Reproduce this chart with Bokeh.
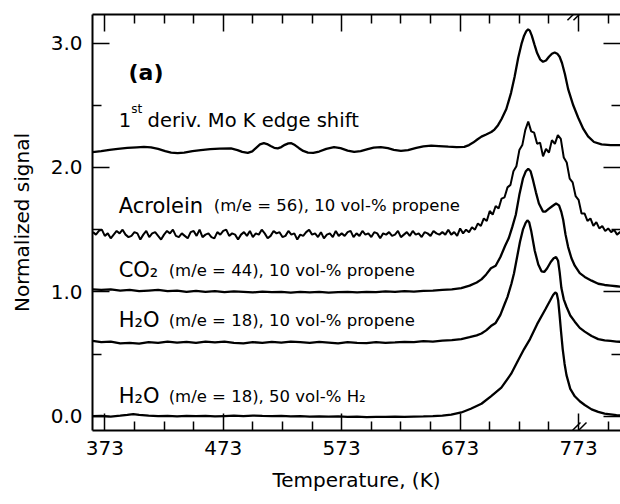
from bokeh.plotting import figure
from bokeh.models import (FixedTicker, LinearAxis, Arrow, CustomJSTickFormatter,
                          PrintfTickFormatter, Range1d)
from bokeh.core.properties import value
from bokeh.embed import file_html
from bokeh.resources import INLINE

# ---------------- data ----------------
X_TICKS = [373, 473, 573, 673, 773]
X_MINOR = [398, 423, 448, 498, 523, 548, 598, 623, 648, 698, 723, 748, 798]
Y_TICKS = [0.0, 1.0, 2.0, 3.0]
Y_MINOR = [0.5, 1.5, 2.5]
BREAK_T = 773

# 1st derivative Mo K edge shift (temperature K, signal)
mo_edge = [(362.6, 2.124), (370, 2.132), (377, 2.142), (384, 2.150), (392, 2.157), (400, 2.162),
           (406, 2.165), (412, 2.162), (418, 2.150), (424, 2.132), (429, 2.120), (434.5, 2.116),
           (440, 2.120), (447, 2.132), (454, 2.140), (462, 2.147), (470, 2.152), (479.5, 2.153),
           (485, 2.140), (489, 2.126), (493.7, 2.117), (497.5, 2.130), (501, 2.160), (504, 2.185),
           (507.3, 2.195), (510, 2.188), (513, 2.172), (516, 2.158), (519, 2.154), (522, 2.164),
           (525, 2.182), (528, 2.194), (530.5, 2.195), (533.5, 2.180), (537, 2.155), (540.5, 2.133),
           (544.5, 2.120), (549, 2.118), (554, 2.128), (560, 2.150), (566.5, 2.163), (572, 2.155),
           (578, 2.136), (583.5, 2.125), (589, 2.132), (595, 2.148), (600, 2.160), (606, 2.164),
           (612, 2.155), (617, 2.142), (623, 2.133), (629, 2.140), (636, 2.158), (642, 2.170),
           (648.6, 2.175), (655, 2.172), (663, 2.167), (670, 2.164), (676.5, 2.166), (680.5, 2.18),
           (684, 2.20), (687.5, 2.225), (691, 2.248), (695, 2.265), (699.3, 2.285), (702, 2.305),
           (705, 2.34), (708, 2.39), (712, 2.47), (716, 2.60), (719, 2.73), (722, 2.88), (725, 3.00),
           (727, 3.06), (728.8, 3.095), (730.4, 3.11), (731.8, 3.10), (733.5, 3.06), (735.7, 2.99),
           (738, 2.92), (740.5, 2.87), (743, 2.85), (745.5, 2.86), (748, 2.89), (750.5, 2.915),
           (752.8, 2.925), (755, 2.915), (757, 2.89), (759, 2.84), (761.5, 2.75), (764.2, 2.63),
           (768.5, 2.50), (772.7, 2.40), (777, 2.31), (781, 2.25), (786, 2.205), (792.4, 2.185),
           (800, 2.18), (809, 2.18)]

# Acrolein (m/e = 56), 10 vol-% propene  -- sampling temperatures and signal
acr_t = [363.0, 365.5, 368.0, 370.5, 373.0, 375.5, 378.0, 380.5, 383.0, 385.5,
         388.0, 390.5, 393.0, 395.5, 398.0, 400.5, 403.0, 405.5, 408.0, 410.5,
         413.0, 415.5, 418.0, 420.5, 423.0, 425.5, 428.0, 430.5, 433.0, 435.5,
         438.0, 440.5, 443.0, 445.5, 448.0, 450.5, 453.0, 455.5, 458.0, 460.5,
         463.0, 465.5, 468.0, 470.5, 473.0, 475.5, 478.0, 480.5, 483.0, 485.5,
         488.0, 490.5, 493.0, 495.5, 498.0, 500.5, 503.0, 505.5, 508.0, 510.5,
         513.0, 515.5, 518.0, 520.5, 523.0, 525.5, 528.0, 530.5, 533.0, 535.5,
         538.0, 540.5, 543.0, 545.5, 548.0, 550.5, 553.0, 555.5, 558.0, 560.5,
         563.0, 565.5, 568.0, 570.5, 573.0, 575.5, 578.0, 580.5, 583.0, 585.5,
         588.0, 590.5, 593.0, 595.5, 598.0, 600.5, 603.0, 605.5, 608.0, 610.5,
         613.0, 615.5, 618.0, 620.5, 623.0, 625.5, 628.0, 630.5, 633.0, 635.5,
         638.0, 640.5, 643.0, 645.5, 648.0, 650.5, 653.0, 655.5, 658.0, 660.5,
         663.0, 665.5, 668.0, 670.5, 673.0, 675.5, 678.0, 680.5, 683.0, 685.5,
         688.0, 690.5, 693.0, 695.5, 698.0, 700.5, 703.0, 705.5, 708.0, 710.5,
         713.0, 715.5, 718.0, 720.5, 723.0, 725.5, 728.0, 730.5, 733.0, 735.5,
         738.0, 740.5, 743.0, 745.5, 748.0, 750.5, 753.0, 755.5, 758.0, 760.5,
         763.0, 765.5, 768.0, 770.5, 773.0, 775.5, 778.0, 780.5, 783.0, 785.5,
         788.0, 790.5, 793.0, 795.5, 798.0, 800.5, 803.0, 805.5, 808.0, 810.5]
acr_v = [1.48, 1.46, 1.49, 1.50, 1.45, 1.47, 1.43, 1.46, 1.49, 1.47,
         1.50, 1.46, 1.44, 1.45, 1.48, 1.47, 1.42, 1.46, 1.49, 1.44,
         1.47, 1.48, 1.45, 1.42, 1.46, 1.49, 1.47, 1.50, 1.45, 1.44,
         1.47, 1.45, 1.43, 1.48, 1.49, 1.45, 1.50, 1.44, 1.46, 1.47,
         1.44, 1.43, 1.48, 1.46, 1.49, 1.50, 1.45, 1.47, 1.46, 1.42,
         1.46, 1.48, 1.45, 1.49, 1.44, 1.47, 1.46, 1.50, 1.47, 1.43,
         1.45, 1.49, 1.47, 1.48, 1.44, 1.45, 1.49, 1.46, 1.47, 1.42,
         1.46, 1.45, 1.48, 1.50, 1.46, 1.47, 1.44, 1.48, 1.43, 1.46,
         1.47, 1.44, 1.49, 1.45, 1.47, 1.45, 1.48, 1.49, 1.44, 1.47,
         1.45, 1.49, 1.46, 1.47, 1.44, 1.48, 1.47, 1.43, 1.47, 1.46,
         1.48, 1.45, 1.46, 1.49, 1.44, 1.46, 1.48, 1.45, 1.49, 1.46,
         1.47, 1.44, 1.48, 1.47, 1.45, 1.49, 1.47, 1.46, 1.48, 1.46,
         1.50, 1.46, 1.48, 1.45, 1.51, 1.47, 1.50, 1.48, 1.52, 1.50,
         1.55, 1.53, 1.59, 1.57, 1.65, 1.62, 1.69, 1.67, 1.75, 1.76,
         1.84, 1.86, 1.97, 2.01, 2.14, 2.18, 2.30, 2.37, 2.29, 2.28,
         2.19, 2.20, 2.09, 2.15, 2.12, 2.22, 2.19, 2.26, 2.23, 2.08,
         2.04, 1.91, 1.88, 1.77, 1.74, 1.63, 1.63, 1.57, 1.59, 1.53,
         1.56, 1.51, 1.53, 1.49, 1.51, 1.48, 1.50, 1.46, 1.48, 1.46]

# CO2 (m/e = 44), 10 vol-% propene
co2 = [(362.6, 1.02), (370, 1.015), (378, 1.02), (386, 1.01), (394, 1.015), (402, 1.005), (410, 1.01),
       (418, 1.015), (426, 1.005), (434, 1.01), (442, 1.0), (450, 1.008), (458, 1.0), (466, 1.005),
       (474, 0.998), (482, 1.004), (490, 1.0), (498, 0.995), (506, 1.002), (514, 0.997), (522, 1.0),
       (530, 0.994), (538, 1.0), (546, 0.996), (554, 1.0), (562, 0.993), (570, 0.998), (578, 1.0),
       (586, 0.995), (594, 1.0), (602, 0.997), (610, 1.003), (618, 1.0), (626, 1.005), (634, 1.002),
       (642, 1.008), (650, 1.01), (658, 1.015), (666, 1.02), (674, 1.03), (681, 1.05), (687, 1.075),
       (691, 1.10), (695, 1.14), (699, 1.19), (703, 1.21), (707, 1.28), (711, 1.37), (714, 1.43),
       (717, 1.52), (720, 1.62), (723, 1.78), (726, 1.91), (728.5, 1.97), (730.5, 1.99), (732.5, 1.97),
       (734.5, 1.90), (737, 1.80), (739.5, 1.71), (743, 1.645), (745, 1.645), (747.5, 1.665),
       (751, 1.69), (754, 1.71), (756.5, 1.695), (758.5, 1.64), (760, 1.58), (762, 1.46),
       (764.2, 1.36), (767, 1.27), (769.8, 1.21), (774, 1.15), (778.2, 1.12), (784, 1.09),
       (789.6, 1.065), (795, 1.055), (800, 1.05), (805, 1.045), (809, 1.04)]

# H2O (m/e = 18), 10 vol-% propene
h2o_propene = [(362.6, 0.605), (370, 0.595), (378, 0.60), (386, 0.585), (394, 0.59), (402, 0.583),
               (410, 0.595), (418, 0.59), (426, 0.6), (434, 0.592), (442, 0.598), (450, 0.59),
               (458, 0.6), (466, 0.594), (474, 0.6), (482, 0.59), (490, 0.585), (498, 0.595),
               (506, 0.59), (514, 0.598), (522, 0.592), (530, 0.6), (538, 0.595), (546, 0.59),
               (554, 0.598), (562, 0.592), (570, 0.585), (578, 0.595), (586, 0.59), (594, 0.587),
               (602, 0.595), (610, 0.59), (618, 0.593), (626, 0.598), (634, 0.595), (642, 0.603),
               (650, 0.6), (658, 0.607), (666, 0.612), (674, 0.62), (681, 0.635), (687, 0.65),
               (691, 0.665), (695, 0.69), (699, 0.725), (703, 0.75), (707, 0.815), (710.5, 0.90),
               (713, 0.96), (716.3, 1.065), (718.5, 1.15), (720.5, 1.25), (723.5, 1.40), (726, 1.50),
               (728.3, 1.555), (729.8, 1.575), (731.3, 1.56), (733, 1.49), (736, 1.33), (739, 1.22),
               (741.7, 1.165), (744, 1.16), (746.5, 1.19), (749.5, 1.24), (752, 1.27), (754, 1.28),
               (755.7, 1.25), (757, 1.16), (758.5, 1.03), (760.5, 0.94), (762.8, 0.88), (766, 0.81),
               (769.8, 0.76), (774, 0.71), (778.2, 0.68), (784, 0.645), (789.6, 0.62), (795, 0.61),
               (800, 0.605), (805, 0.60), (809, 0.598)]

# H2O (m/e = 18), 50 vol-% H2
h2o_h2 = [(362.6, 0.0), (370, 0.002), (378, -0.003), (386, 0.004), (392, 0.01), (397, 0.016),
          (402, 0.01), (410, 0.004), (418, 0.0), (426, 0.003), (434, -0.002), (442, 0.002),
          (450, 0.0), (458, 0.003), (466, -0.002), (474, 0.001), (482, 0.004), (490, 0.0),
          (498, 0.005), (506, 0.002), (514, 0.0), (522, 0.003), (530, -0.002), (538, 0.001),
          (546, -0.003), (554, -0.001), (562, -0.004), (570, -0.002), (578, -0.006), (586, -0.004),
          (594, -0.007), (602, -0.005), (610, -0.006), (618, -0.004), (626, -0.006), (634, -0.003),
          (642, -0.002), (650, 0.0), (658, 0.005), (665.5, 0.012), (674, 0.03), (682, 0.06),
          (691, 0.10), (699, 0.16), (707.8, 0.23), (716, 0.34), (722, 0.45), (727, 0.54),
          (732, 0.62), (738, 0.74), (745, 0.86), (749, 0.93), (751.5, 0.975), (753.3, 0.995),
          (754.6, 0.985), (755.8, 0.93), (756.9, 0.82), (758.2, 0.68), (759.6, 0.54), (761.2, 0.42),
          (762.8, 0.33), (766, 0.22), (769.8, 0.16), (774, 0.12), (778.2, 0.09), (784, 0.055),
          (789.6, 0.035), (795, 0.02), (800, 0.015), (805, 0.008), (809, 0.005)]

LABEL_MAIN = ["Acrolein", "CO\u2082", "H\u2082O", "H\u2082O"]
LABEL_SMALL = ["(m/e = 56), 10 vol-% propene", "(m/e = 44), 10 vol-% propene",
               "(m/e = 18), 10 vol-% propene", "(m/e = 18), 50 vol-% H\u2082"]

FONT = "DejaVu Sans"

# ---------------- figure ----------------
p = figure(width=620, height=504, x_range=Range1d(362.6, 808.4), y_range=Range1d(-0.115, 3.23),
           output_backend="svg", toolbar_location=None,
           min_border_left=92, min_border_right=0, min_border_top=14, min_border_bottom=74)
p.background_fill_color = "white"
p.border_fill_color = "white"
p.outline_line_color = None
p.xgrid.visible = False
p.ygrid.visible = False

for s in [mo_edge, co2, h2o_propene, h2o_h2]:
    p.line([a for a, b in s], [b for a, b in s], line_color="black", line_width=2.3)
p.line(acr_t, acr_v, line_color="black", line_width=2.0)


def style_axis(ax):
    ax.axis_line_color = "black"
    ax.axis_line_width = 2
    ax.major_tick_in = 17
    ax.major_tick_out = 0
    ax.minor_tick_in = 9
    ax.minor_tick_out = 0
    ax.major_tick_line_color = "black"
    ax.minor_tick_line_color = "black"
    ax.major_tick_line_width = 1.5
    ax.minor_tick_line_width = 1.5
    ax.major_label_text_font = FONT
    ax.major_label_text_font_size = "20px"
    ax.major_label_text_color = "black"
    ax.axis_label_text_font = FONT
    ax.axis_label_text_font_size = "20px"
    ax.axis_label_text_font_style = "normal"
    ax.axis_label_text_color = "black"


xb = p.below[0]
xb.ticker = FixedTicker(ticks=X_TICKS, minor_ticks=X_MINOR)
xb.axis_label = "Temperature, (K)"
xb.major_label_standoff = 10
xb.axis_label_standoff = 10
style_axis(xb)

yl = p.left[0]
yl.ticker = FixedTicker(ticks=Y_TICKS, minor_ticks=Y_MINOR)
yl.formatter = PrintfTickFormatter(format="%.1f")
yl.axis_label = "Normalized signal"
yl.major_label_standoff = 10
yl.axis_label_standoff = 14
style_axis(yl)

blank = CustomJSTickFormatter(code="return ''")
xt = LinearAxis(ticker=FixedTicker(ticks=X_TICKS, minor_ticks=X_MINOR), formatter=blank,
                major_label_standoff=0)
style_axis(xt)
xt.major_label_text_font_size = "1px"
p.add_layout(xt, "above")

yr = LinearAxis(ticker=FixedTicker(ticks=Y_TICKS, minor_ticks=Y_MINOR), formatter=blank,
                major_label_standoff=0)
style_axis(yr)
yr.axis_line_color = None
yr.major_label_text_font_size = "1px"
p.add_layout(yr, "right")

# axis-break marks (//) at the break temperature, on top and bottom axes
for yb, yt in [(-0.155, -0.05), (3.183, 3.288)]:
    for dx in (0.0, 5.1):
        p.add_layout(Arrow(end=None, x_start=BREAK_T - 9.4 + dx, y_start=yb,
                           x_end=BREAK_T + 1.6 + dx, y_end=yt,
                           line_color="black", line_width=1.5))

# ---------------- labels ----------------
txt = dict(text_font=value(FONT), text_color="black", text_baseline="alphabetic", text_align="left")
p.text(x=[393.0], y=[2.76], text=["(a)"], text_font_size=value("22px"),
       text_font_style="bold", **txt)
p.text(x=[384.7], y=[2.38], text=["1"], text_font_size=value("19.5px"), **txt)
p.text(x=[395.4], y=[2.468], text=["st"], text_font_size=value("12px"), **txt)
p.text(x=[409.1], y=[2.38], text=["deriv. Mo K edge shift"], text_font_size=value("19.5px"), **txt)

main_y = [1.694, 1.173, 0.771, 0.159]
small_x = [465.0, 426.9, 426.9, 426.9]
p.text(x=[384.7] * 4, y=main_y, text=LABEL_MAIN, text_font_size=value("21px"), **txt)
p.text(x=small_x, y=main_y, text=LABEL_SMALL, text_font_size=value("16.5px"), **txt)

open("out.html", "w").write(file_html(p, INLINE))
